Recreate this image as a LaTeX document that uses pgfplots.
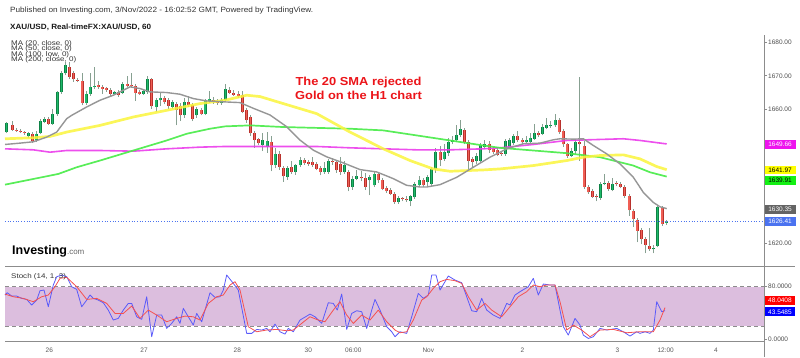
\documentclass[border=0pt]{standalone}
\usepackage{fontspec}
\setmainfont{Liberation Sans}
\usepackage{pgfplots}
\usepackage{pgfplotstable}
\pgfplotsset{compat=1.18}
\definecolor{candup}{RGB}{15,130,70}
\definecolor{canduplt}{RGB}{30,185,105}
\definecolor{canddn}{RGB}{185,50,45}
\definecolor{canddnlt}{RGB}{240,95,85}
\definecolor{wick}{RGB}{135,160,145}
\definecolor{ma20}{RGB}{150,150,150}
\definecolor{ma50}{RGB}{250,245,60}
\definecolor{ma100}{RGB}{70,235,70}
\definecolor{ma200}{RGB}{235,60,235}
\definecolor{stochband}{RGB}{220,190,222}
\definecolor{stochK}{RGB}{90,90,250}
\definecolor{stochD}{RGB}{245,80,80}
\definecolor{axisgray}{RGB}{140,140,140}
\definecolor{lastblue}{RGB}{75,115,240}
\definecolor{boxgray}{RGB}{100,100,100}
\definecolor{boxgreen}{RGB}{20,240,20}
\definecolor{boxyellow}{RGB}{255,255,0}
\definecolor{boxmag}{RGB}{238,20,238}
\definecolor{annred}{RGB}{235,20,25}

\pgfplotstableread{
x o h l c
6.7 1653.2 1656.2 1652.9 1655.9
12.3 1655.4 1656.4 1653.5 1653.9
16.0 1653.9 1654.5 1653.2 1653.6
20.0 1653.6 1654.0 1652.8 1653.2
24.0 1653.2 1653.6 1652.4 1653.0
28.3 1651.9 1653.3 1651.3 1652.8
32.3 1652.7 1653.2 1649.9 1650.4
36.0 1650.7 1653.5 1650.2 1652.7
40.3 1652.9 1657.0 1652.5 1656.4
44.3 1656.2 1657.8 1655.8 1657.2
48.7 1657.1 1657.6 1655.3 1655.7
52.7 1655.7 1660.0 1655.4 1658.7
57.3 1658.5 1665.6 1658.0 1665.1
61.3 1665.1 1671.5 1664.7 1670.7
65.3 1670.7 1674.0 1670.3 1673.2
69.3 1672.7 1674.2 1669.0 1669.7
73.3 1670.7 1671.5 1668.2 1668.9
77.7 1668.7 1669.2 1668.0 1668.5
82.0 1668.5 1670.7 1661.2 1661.9
86.0 1661.9 1665.5 1661.3 1664.7
90.0 1664.7 1670.9 1664.0 1666.7
94.0 1666.7 1672.7 1666.2 1667.1
98.0 1667.4 1668.5 1666.2 1666.7
102.0 1666.7 1667.4 1664.7 1666.1
106.0 1666.1 1666.8 1665.3 1665.9
110.3 1665.7 1666.3 1664.0 1664.7
114.3 1664.7 1665.6 1664.2 1665.1
118.7 1665.2 1665.8 1663.8 1664.2
122.7 1664.9 1668.0 1664.5 1667.5
127.0 1667.5 1669.9 1666.6 1667.1
131.0 1667.4 1670.9 1666.5 1667.0
135.0 1667.0 1667.5 1662.5 1665.0
139.0 1665.2 1665.7 1664.2 1664.7
143.3 1664.7 1666.0 1664.2 1665.4
147.3 1665.2 1669.9 1664.7 1668.9
151.7 1668.9 1669.3 1660.2 1660.9
156.0 1660.7 1663.4 1659.2 1662.7
160.0 1662.7 1664.9 1661.0 1663.5
164.0 1663.5 1664.0 1661.5 1662.2
168.3 1662.7 1663.3 1660.2 1661.0
172.3 1660.7 1662.8 1660.0 1662.2
176.3 1661.7 1662.2 1655.2 1659.9
180.3 1660.9 1662.0 1656.5 1658.2
184.3 1658.2 1663.5 1657.5 1662.2
188.7 1662.2 1664.0 1660.7 1661.2
192.7 1661.2 1661.8 1656.5 1657.2
196.7 1658.2 1660.8 1657.5 1660.2
201.0 1659.9 1660.4 1658.2 1658.7
205.0 1658.7 1663.2 1658.2 1662.7
209.0 1662.2 1665.5 1661.8 1663.2
213.3 1662.9 1663.7 1661.6 1662.2
217.3 1662.5 1663.0 1661.4 1661.9
221.3 1661.9 1663.5 1661.3 1662.9
225.5 1662.8 1667.5 1662.3 1666.0
229.7 1665.8 1666.6 1664.5 1665.0
233.7 1665.0 1665.8 1663.9 1664.3
238.0 1664.6 1665.5 1663.5 1664.0
242.3 1664.3 1665.5 1658.8 1659.3
246.7 1659.8 1660.3 1656.0 1656.8
250.7 1657.6 1658.2 1652.0 1652.8
254.7 1653.0 1653.5 1648.5 1650.8
258.7 1651.0 1651.5 1649.2 1649.8
262.7 1649.3 1653.0 1647.5 1650.8
267.0 1648.8 1653.2 1647.0 1650.6
271.0 1650.3 1652.0 1641.5 1643.3
275.0 1643.3 1648.5 1642.5 1646.8
279.3 1646.8 1647.5 1642.0 1642.8
283.3 1642.6 1643.0 1638.3 1640.0
287.7 1639.8 1643.2 1639.0 1642.6
291.7 1642.8 1644.5 1640.8 1641.3
295.7 1641.3 1643.8 1640.5 1643.3
300.0 1643.3 1645.8 1642.8 1645.0
304.0 1644.8 1645.5 1643.5 1644.0
308.3 1644.3 1645.0 1643.0 1643.6
312.3 1644.3 1645.8 1642.8 1643.3
316.3 1643.6 1644.2 1641.8 1642.3
320.0 1642.6 1643.2 1640.3 1641.3
324.0 1641.3 1644.3 1640.8 1642.6
328.3 1641.3 1645.3 1640.8 1644.6
332.3 1644.6 1645.5 1643.5 1644.3
336.3 1644.3 1645.0 1641.0 1641.8
340.3 1643.8 1645.8 1640.5 1641.3
344.3 1641.3 1644.5 1640.8 1643.3
348.3 1641.3 1642.0 1635.5 1636.8
352.7 1636.8 1640.0 1636.0 1639.3
356.7 1639.3 1642.0 1638.8 1640.0
361.7 1639.6 1641.5 1638.5 1639.4
365.7 1639.6 1641.0 1636.0 1636.8
369.7 1638.8 1640.5 1634.3 1639.8
374.0 1637.3 1641.5 1636.8 1640.8
378.0 1640.8 1641.3 1638.0 1638.8
382.0 1639.0 1639.5 1635.8 1636.3
386.0 1636.6 1637.0 1635.0 1635.6
390.3 1635.8 1636.5 1634.3 1634.8
394.3 1634.8 1635.3 1631.8 1632.3
398.3 1632.3 1634.0 1631.8 1633.6
402.3 1633.4 1633.9 1632.5 1633.2
406.7 1633.3 1634.2 1632.3 1632.8
410.7 1632.6 1634.5 1631.0 1634.0
414.7 1633.8 1638.3 1633.3 1637.8
419.0 1637.3 1640.0 1636.8 1638.8
423.0 1638.8 1639.5 1636.8 1637.3
427.3 1638.3 1640.5 1637.0 1639.8
431.3 1637.8 1642.8 1637.0 1642.1
435.3 1642.1 1648.3 1641.0 1647.3
440.0 1647.3 1649.0 1643.0 1644.8
444.0 1645.2 1649.5 1644.5 1647.3
448.3 1646.9 1651.5 1646.0 1650.2
452.3 1650.2 1652.0 1649.5 1650.9
456.3 1650.7 1655.2 1650.2 1652.2
460.3 1652.2 1656.9 1651.7 1654.2
464.3 1653.9 1654.5 1649.5 1650.2
468.3 1650.2 1650.7 1642.0 1644.7
472.3 1645.2 1645.8 1642.5 1644.2
476.7 1644.7 1647.0 1643.8 1646.2
480.7 1644.7 1650.0 1644.0 1649.2
484.7 1648.7 1650.7 1648.0 1649.7
489.0 1649.7 1650.5 1647.0 1647.9
493.0 1648.2 1648.8 1646.7 1647.2
497.0 1647.9 1648.5 1646.0 1646.5
501.3 1646.9 1647.5 1646.2 1646.7
505.3 1646.7 1651.0 1646.2 1650.4
509.3 1648.5 1651.5 1648.0 1650.7
513.7 1649.9 1652.5 1649.3 1651.9
517.7 1651.9 1653.5 1650.2 1650.7
522.0 1650.9 1651.5 1649.6 1650.1
526.0 1650.1 1652.0 1649.6 1650.9
530.0 1650.2 1653.0 1649.8 1651.5
534.3 1651.2 1655.5 1650.8 1652.9
538.3 1652.9 1653.5 1651.7 1652.2
542.3 1652.7 1655.5 1652.2 1654.7
546.7 1654.4 1657.5 1654.0 1655.4
550.7 1654.9 1656.5 1654.5 1655.3
555.0 1655.2 1658.7 1654.8 1656.9
559.0 1656.9 1657.5 1652.7 1653.2
563.0 1653.5 1654.0 1648.8 1649.5
567.0 1649.5 1650.0 1645.5 1646.2
571.3 1646.2 1648.5 1645.7 1647.5
575.3 1647.5 1651.0 1646.8 1650.2
579.3 1650.2 1669.5 1644.7 1649.5
584.0 1648.9 1650.5 1636.2 1636.9
588.0 1636.9 1637.5 1634.8 1635.2
592.3 1635.5 1636.2 1633.5 1633.9
596.3 1634.2 1634.7 1632.5 1633.7
600.3 1633.5 1638.2 1633.0 1637.7
604.3 1637.7 1640.7 1637.3 1637.9
608.3 1637.9 1638.5 1635.7 1636.2
612.3 1635.9 1639.5 1635.5 1637.7
616.3 1637.8 1638.5 1637.0 1637.6
620.7 1637.7 1638.2 1636.4 1636.9
624.7 1636.9 1637.5 1633.5 1634.2
629.0 1634.2 1634.7 1628.2 1629.9
633.0 1629.7 1630.2 1625.0 1627.2
637.0 1626.9 1627.5 1620.3 1623.7
641.3 1623.9 1624.5 1619.7 1621.2
645.3 1621.2 1622.0 1617.0 1619.5
649.3 1619.2 1624.7 1617.7 1618.2
653.3 1618.2 1619.5 1617.0 1618.7
657.7 1619.3 1631.3 1618.8 1630.9
662.0 1630.9 1631.2 1625.2 1625.8
666.0 1626.1 1627.0 1625.6 1626.4
}\candles

\newcommand{\fs}[1]{\fontsize{#1bp}{#1bp}\selectfont}
\pgfplotsset{
  candle/.style n args={3}{draw=none, mark=none, #1,
    error bars/.cd, y dir=plus, y explicit, error mark=none,
    error bar style={draw=#2, line width=#3, line cap=butt}},
}

\begin{document}
\begin{tikzpicture}[x=1bp,y=1bp]
\useasboundingbox (0,0) rectangle (800,357);

% ---------------- main price panel ----------------
\begin{axis}[
  at={(5bp,90.7bp)}, anchor=south west, scale only axis,
  width=759bp, height=231.3bp,
  xmin=5, xmax=764, ymin=1613.13, ymax=1682.18,
  clip=false,
  axis line style={draw=none},
  xtick=\empty,
  ytick={1620,1660,1670,1680},
  yticklabels={1620.00,1660.00,1670.00,1680.00},
  ytick pos=right, yticklabel pos=right,
  tick align=outside, major tick length=3bp,
  tick style={axisgray, line width=0.6bp},
  yticklabel style={font=\fs{6.5}, text=black!70, anchor=west, inner sep=0pt, xshift=1bp},
]
% candle wicks
\addplot[candle={}{wick}{0.8bp}]
  table[x=x, y=l, y error plus expr={\thisrow{h}-\thisrow{l}}]{\candles};
% up bodies
\addplot[candle={restrict expr to domain={\thisrow{c}-\thisrow{o}}{0:100}}{candup}{3bp}]
  table[x=x, y expr={min(\thisrow{o},\thisrow{c})}, y error plus expr={max(abs(\thisrow{c}-\thisrow{o}),0.35)}]{\candles};
\addplot[candle={restrict expr to domain={\thisrow{c}-\thisrow{o}}{0:100}}{canduplt}{1.4bp}]
  table[x=x, y expr={min(\thisrow{o},\thisrow{c})}, y error plus expr={max(abs(\thisrow{c}-\thisrow{o}),0.35)}]{\candles};
% down bodies
\addplot[candle={restrict expr to domain={\thisrow{c}-\thisrow{o}}{-100:-0.001}}{canddn}{3bp}]
  table[x=x, y expr={min(\thisrow{o},\thisrow{c})}, y error plus expr={max(abs(\thisrow{c}-\thisrow{o}),0.35)}]{\candles};
\addplot[candle={restrict expr to domain={\thisrow{c}-\thisrow{o}}{-100:-0.001}}{canddnlt}{1.4bp}]
  table[x=x, y expr={min(\thisrow{o},\thisrow{c})}, y error plus expr={max(abs(\thisrow{c}-\thisrow{o}),0.35)}]{\candles};

% MA 200
\addplot[ma200, line width=1.6bp, line join=round, opacity=0.9] coordinates {
(5,1648.2) (33.3,1647.9) (50,1647.2) (66.7,1647.7) (100,1647.7) (133.3,1647.5) (166.7,1648.2) (200,1648.7) (225,1648.9) (250,1648.9) (316.7,1648.9) (350,1648.5) (383.3,1648.2) (416.7,1647.9) (450,1647.9) (483.3,1648.2) (500,1648.5) (533.3,1649.5) (566.7,1650.7) (600,1651.0) (623.3,1651.2) (640,1650.7) (666.7,1649.66)};
% MA 100
\addplot[ma100, line width=1.7bp, line join=round, opacity=0.9] coordinates {
(5,1637.5) (33.3,1639.2) (58.3,1640.7) (76.7,1642.7) (100,1644.7) (133.3,1647.7) (150,1649.2) (166.7,1650.7) (186.7,1652.7) (210,1654.2) (225,1654.9) (250,1655.2) (283.3,1654.7) (350,1654.2) (383.3,1653.7) (416.7,1652.2) (450,1650.7) (483.3,1649.2) (500,1648.5) (533.3,1647.7) (566.7,1646.9) (600,1645.7) (633.3,1643.2) (650,1641.2) (666.7,1639.91)};
% MA 50
\addplot[ma50, line width=2.7bp, line join=round, opacity=0.85] coordinates {
(5,1651.2) (33.3,1651.5) (50,1651.9) (66.7,1653.2) (100,1655.2) (133.3,1657.7) (166.7,1659.7) (200,1661.7) (225,1662.7) (246.7,1664.2) (260,1663.8) (283.3,1661.7) (316.7,1658.7) (350,1653.2) (383.3,1648.2) (410,1644.7) (433.3,1642.2) (450,1641.5) (483.3,1641.9) (500,1642.2) (533.3,1643.2) (566.7,1644.7) (583.3,1645.7) (600,1646.2) (623.3,1646.4) (640,1645.2) (656.7,1642.9) (666.7,1641.97)};
% MA 20
\addplot[ma20, line width=1.4bp, line join=round] coordinates {
(5,1649.5) (20,1649.9) (33.3,1650.3) (46.7,1651.7) (56.7,1653.2) (66.7,1657.2) (71.7,1658.2) (86.7,1660.7) (100,1662.7) (113.3,1664.2) (130,1666.7) (140,1666.2) (150,1665.2) (166.7,1665.0) (180,1664.5) (193.3,1663.2) (206.7,1662.5) (225,1662.2) (240,1662.0) (253.3,1660.3) (270,1658.3) (286.7,1654.8) (300,1650.8) (313.3,1647.8) (326.7,1645.8) (343.3,1644.0) (360,1642.0) (376.7,1641.3) (393.3,1639.3) (406.7,1637.3) (420,1636.8) (426.7,1636.8) (440,1637.5) (456.7,1639.7) (473.3,1642.7) (490,1645.7) (506.7,1648.2) (523.3,1649.7) (540,1649.9) (553.3,1650.9) (560,1651.2) (573.3,1651.1) (583.3,1651.2) (593.3,1649.2) (606.7,1646.7) (620,1643.7) (633.3,1639.7) (643.3,1635.2) (653.3,1632.2) (660,1630.9) (666.7,1630.35)};
% last price line
\addplot[lastblue, line width=0.7bp, dotted] coordinates {(5,1626.41) (764,1626.41)};

% price boxes
\tikzset{pbox/.style={anchor=west, inner sep=0pt, minimum width=31bp, minimum height=8.6bp, font=\fs{6.5}, align=center}}
\node[pbox, fill=boxmag, text=white] at (axis cs:764.3,1649.55) {1649.66};
\node[pbox, fill=boxyellow, text=black] at (axis cs:764.3,1641.85) {1641.97};
\node[pbox, fill=boxgreen, text=black] at (axis cs:764.3,1638.75) {1639.91};
\node[pbox, fill=boxgray, text=white] at (axis cs:764.3,1630.15) {1630.35};
\node[pbox, fill=lastblue, text=white] at (axis cs:764.3,1626.45) {1626.41};
\end{axis}

% ---------------- stochastic panel ----------------
\begin{axis}[
  at={(5bp,15.3bp)}, anchor=south west, scale only axis,
  width=759bp, height=75.4bp,
  xmin=5, xmax=764, ymin=-4, ymax=111.2,
  clip=false,
  axis line style={draw=none},
  xtick={49.3,144,237.3,308.3,353.3,428.3,522.3,617.3,665.7,716},
  xticklabels={26,27,28,30,06:00,Nov,2,3,12:00,4},
  xtick style={draw=none},
  xticklabel style={font=\fs{6.5}, text=black!65, inner sep=0pt, yshift=-3.5bp},
  ytick={0,80},
  yticklabels={0.0000,80.0000},
  ytick pos=right, yticklabel pos=right,
  tick align=outside, major tick length=3bp,
  ytick style={axisgray, line width=0.6bp},
  yticklabel style={font=\fs{6.5}, text=black!70, anchor=west, inner sep=0pt, xshift=1bp},
]
\addplot[draw=none, fill=stochband] coordinates {(5,20) (764,20) (764,80) (5,80)} -- cycle;
\addplot[axisgray, line width=0.8bp, dash pattern=on 4bp off 3bp] coordinates {(5,20) (764,20)};
\addplot[axisgray, line width=0.8bp, dash pattern=on 4bp off 3bp] coordinates {(5,80) (764,80)};
% %K
\addplot[stochK, line width=0.8bp, line join=round] coordinates {
(5,67.3) (7.3,70.8) (11.7,65.7) (16.7,65.7) (21.7,62.2) (26.7,60.6) (31.7,52) (36.7,59.6) (40,73.9) (44,74.9) (48.3,49.4) (53.3,82.6) (56.7,95.3) (61.7,97.9) (66.7,95.3) (71.7,80) (76.7,75.9) (81.7,49.4) (86.7,59.6) (90,67.3) (93.3,62.2) (98.3,59.6) (103.3,55.5) (108.3,44.3) (113.3,29.1) (118.3,31.6) (123.3,44.3) (128.3,54.5) (131.7,54.5) (136.7,34.1) (141.7,30.1) (146.7,64.7) (151.7,3.6) (156.7,36.7) (161.7,36.7) (166.7,16.3) (171.7,24) (176.7,34.1) (180,24) (183.3,46.9) (188.3,34.1) (193.3,21.4) (196.7,39.2) (201.7,26.5) (205,44.3) (210,70.8) (215,63.7) (220,64.7) (223.3,74.9) (226.7,97.9) (233.3,85.1) (238.3,74.9) (246.7,8.7) (251.7,8.7) (256.7,14.8) (261.7,13.8) (266.7,16.3) (270,11.2) (275,22.9) (280,11.2) (285,7.6) (288.3,16.3) (293.3,11.2) (300,29.1) (306.7,35.1) (310,38.2) (315,34.1) (321.7,24) (328.3,55.5) (333.3,54.5) (337.3,44.3) (341.7,68.8) (346.7,14.8) (351.7,39.2) (356.7,43.3) (361.7,41.8) (366.7,16.3) (371.7,44.3) (375,60.6) (380,44.3) (386.7,18.9) (391.7,11.2) (395,3.6) (400,11.2) (406.7,8.7) (411.7,34.1) (418.3,69.8) (423.3,62.2) (428.3,67.3) (431.7,97.9) (436,97.9) (440,74.9) (445,87.7) (448.3,96.3) (455,90.2) (461.7,86.1) (466.7,64.7) (471.7,43.3) (476.7,41.8) (481.7,62.2) (486.7,44.3) (493.3,36.7) (500,31.6) (506.7,54.5) (510,52) (515,67.3) (520,72.4) (528.3,80) (533.3,92.8) (538.3,67.3) (543.3,84.1) (550,82.6) (555,82.6) (563.3,18.9) (568.3,6.1) (575,31.6) (580,21.4) (583.3,6.1) (588.3,1) (593.3,3.6) (600,16.3) (606.7,13.8) (616.7,16.3) (623.3,11.2) (630,4.6) (636.7,11.2) (640,8.7) (645,11.2) (650,8.7) (653.3,13.8) (656.7,57.1) (661.7,41.8) (665,43.55)};
% %D
\addplot[stochD, line width=0.8bp, line join=round] coordinates {
(5,68.8) (13.3,64.7) (23.3,62.2) (33.3,57.1) (41.7,64.7) (48.3,67.3) (55,80) (60,92.8) (66.7,94.3) (76.7,80) (86.7,60.6) (96.7,62.2) (106.7,54.5) (115,39.2) (123.3,39.2) (131.7,50.5) (140,31.6) (148.3,44.3) (156.7,36.7) (166.7,26.5) (176.7,31.6) (185,35.1) (193.3,34.1) (200,29.1) (208.3,54.5) (216.7,64.7) (223.3,67.3) (230,82.6) (235,87.7) (240,74.9) (248.3,18.9) (256.7,11.2) (266.7,13.8) (276.7,14.8) (286.7,12.7) (293.3,13.8) (301.7,24) (310,34.1) (318.3,29.1) (325,26.5) (333.3,44.3) (340,57.1) (346.7,36.7) (353.3,24) (361.7,36.7) (370,29.1) (378.3,44.3) (386.7,26.5) (395,13.8) (400,9.7) (406.7,11.2) (413.3,29.1) (421.7,59.6) (426.7,64.7) (433.3,77.5) (440,87.7) (446.7,91.2) (455,89.2) (461.7,85.1) (468.3,64.7) (476.7,44.3) (485,54.5) (491.7,44.3) (501.7,34.1) (510,49.4) (518.3,64.7) (526.7,72.4) (533.3,82.6) (540,80) (546.7,82.6) (555,82.6) (560,57.1) (566.7,13.8) (573.3,21.4) (581.7,13.8) (590,3.6) (600,13.8) (613.3,14.8) (626.7,9.7) (640,11.2) (653.3,11.2) (660,29.1) (665,48.04)};
\tikzset{sbox/.style={anchor=west, inner sep=0pt, minimum width=30.5bp, minimum height=8.6bp, font=\fs{6.5}, align=center}}
\node[sbox, fill=red, text=white] at (axis cs:764.5,58.6) {48.0408};
\node[sbox, fill=blue, text=white] at (axis cs:764.5,41.7) {43.5485};
\end{axis}

% ---------------- frame lines ----------------
\draw[axisgray, line width=0.8bp] (764,322) -- (764,0);
\draw[axisgray, line width=0.8bp] (5,90.7) -- (795,90.7);
\draw[axisgray, line width=0.8bp] (5,15.3) -- (764,15.3);

% ---------------- texts ----------------
\node[anchor=west, inner sep=0pt, font=\fs{7.6}, text=black!80] at (10,346) {\scalebox{1.08}[1]{Published on Investing.com, 3/Nov/2022 - 16:02:52 GMT, Powered by TradingView.}};
\node[anchor=west, inner sep=0pt, font=\fs{7.6}\bfseries, text=black!90] at (10,330) {\scalebox{1.07}[1]{XAU/USD, Real-timeFX:XAU/USD, 60}};
\node[anchor=west, inner sep=0pt, font=\fs{6.8}, text=black!80] at (11,313.5) {\scalebox{1.18}[1]{MA (20, close, 0)}};
\node[anchor=west, inner sep=0pt, font=\fs{6.8}, text=black!80] at (11,308) {\scalebox{1.18}[1]{MA (50, close, 0)}};
\node[anchor=west, inner sep=0pt, font=\fs{6.8}, text=black!80] at (11,302.5) {\scalebox{1.18}[1]{MA (100, low, 0)}};
\node[anchor=west, inner sep=0pt, font=\fs{6.8}, text=black!80] at (11,297) {\scalebox{1.18}[1]{MA (200, close, 0)}};
\node[anchor=west, inner sep=0pt, font=\fs{6.8}, text=black!80] at (11,80.5) {\scalebox{1.18}[1]{Stoch (14, 1, 3)}};
\node[anchor=west, inner sep=0pt] at (12,105.3) {{\fs{12.5}\bfseries Investing}{\fs{8}\color{black!60}.com}};
\node[align=center, inner sep=0pt, font=\fs{11.6}\bfseries, text=annred] at (358.5,269) {\scalebox{1.11}[1]{The 20 SMA rejected}\\[2.4bp]\scalebox{1.11}[1]{Gold on the H1 chart}};
\end{tikzpicture}
\end{document}
